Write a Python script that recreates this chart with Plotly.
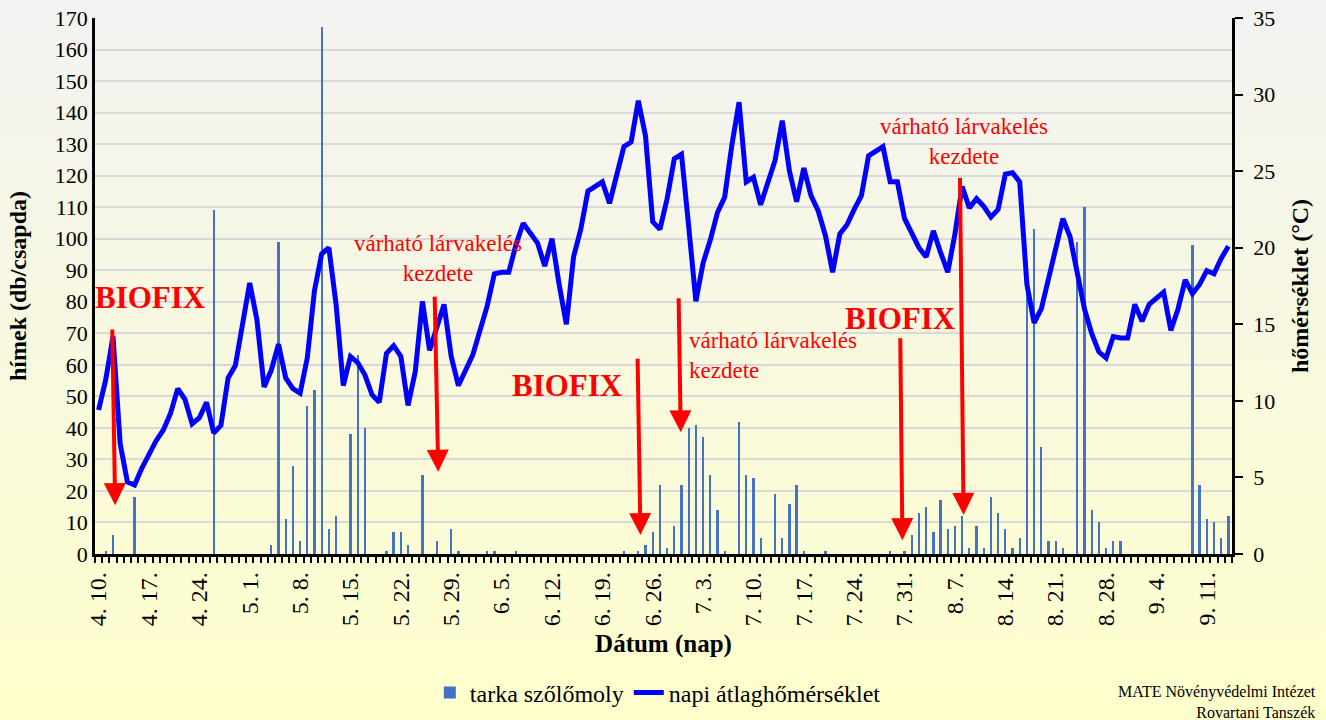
import base64
import plotly.graph_objects as go

# ---------------- data ----------------
# daily counts of males (tarka szőlőmoly), 4.10. -> 9.14. (158 days), one row = one week
moth_counts = [
    0, 1, 6, 0, 0, 18, 0,          # 4.10.
    0, 0, 0, 0, 0, 0, 0,           # 4.17.
    0, 0, 109, 0, 0, 0, 0,         # 4.24.
    0, 0, 0, 3, 99, 11, 28,        # 5.1.
    4, 47, 52, 167, 8, 12, 0,      # 5.8.
    38, 63, 40, 0, 0, 1, 7,        # 5.15.
    7, 3, 0, 25, 0, 4, 0,          # 5.22.
    8, 1, 0, 0, 0, 1, 1,           # 5.29.
    0, 0, 1, 0, 0, 0, 0,           # 6.5.
    0, 0, 0, 0, 0, 0, 0,           # 6.12.
    0, 0, 0, 1, 0, 1, 3,           # 6.19.
    7, 22, 2, 9, 22, 40, 41,       # 6.26.
    37, 25, 14, 1, 0, 42, 25,      # 7.3.
    24, 5, 0, 19, 5, 16, 22,       # 7.10.
    1, 0, 0, 1, 0, 0, 0,           # 7.17.
    0, 0, 0, 0, 0, 1, 0,           # 7.24.
    1, 6, 13, 15, 7, 17, 8,        # 7.31.
    9, 12, 2, 9, 2, 18, 13,        # 8.7.
    8, 2, 5, 90, 103, 34, 4,       # 8.14.
    4, 2, 0, 99, 110, 14, 10,      # 8.21.
    2, 4, 4, 0, 0, 0, 0,           # 8.28.
    0, 0, 0, 0, 0, 98, 22,         # 9.4.
    11, 10, 5, 12,                 # 9.11.
]

# daily mean temperature (°C)
mean_temp = [
    9.4, 11.4, 14.2, 7.2, 4.7, 4.5, 5.6,
    6.5, 7.4, 8.1, 9.2, 10.8, 10.1, 8.5,
    8.9, 9.9, 7.9, 8.4, 11.5, 12.3, 15.0,
    17.7, 15.3, 10.9, 12.0, 13.7, 11.5, 10.8,
    10.5, 12.8, 17.2, 19.6, 20.0, 16.3, 11.0,
    12.9, 12.5, 11.7, 10.4, 9.9, 13.1, 13.6,
    12.9, 9.7, 11.9, 16.5, 13.3, 14.9, 16.3,
    12.9, 11.0, 12.0, 13.0, 14.6, 16.2, 18.3,
    18.4, 18.4, 20.2, 21.6, 21.0, 20.3, 18.8,
    20.6, 17.6, 15.0, 19.4, 21.2, 23.7, 24.0,
    24.3, 22.9, 24.6, 26.6, 26.9, 29.6, 27.3,
    21.7, 21.2, 23.2, 25.8, 26.1, 21.4, 16.5,
    19.0, 20.5, 22.3, 23.3, 26.7, 29.5, 24.3,
    24.6, 22.8, 24.3, 25.7, 28.3, 25.0, 23.0,
    25.2, 23.4, 22.4, 20.8, 18.4, 20.9, 21.5,
    22.5, 23.4, 26.0, 26.3, 26.6, 24.3, 24.3,
    21.9, 20.9, 20.0, 19.4, 21.1, 19.7, 18.4,
    20.9, 24.0, 22.6, 23.2, 22.7, 22.0, 22.5,
    24.8, 24.9, 24.3, 17.6, 15.1, 16.0, 17.9,
    20.0, 21.9, 20.7, 18.3, 16.0, 14.4, 13.2,
    12.8, 14.2, 14.1, 14.1, 16.3, 15.2, 16.3,
    16.7, 17.1, 14.6, 16.0, 17.9, 17.0, 17.6,
    18.5, 18.3, 19.3, 20.1,
]

day_index = list(range(len(mean_temp)))

tick_labels = [
    "4. 10.", "4. 17.", "4. 24.", "5. 1.", "5. 8.", "5. 15.", "5. 22.", "5. 29.",
    "6. 5.", "6. 12.", "6. 19.", "6. 26.", "7. 3.", "7. 10.", "7. 17.", "7. 24.",
    "7. 31.", "8. 7.", "8. 14.", "8. 21.", "8. 28.", "9. 4.", "9. 11.",
]
tick_days = list(range(0, 7 * len(tick_labels), 7))

# annotations: label texts and anchors (day index, left-axis value)
label_texts = ["BIOFIX", "várható lárvakelés<br>kezdete", "BIOFIX",
               "várható lárvakelés<br>kezdete", "BIOFIX", "várható lárvakelés<br>kezdete"]
label_days = [7.2, 47.1, 65.2, 81.7, 111.4, 120.3]
label_vals = [81.2, 93.7, 53.6, 63.1, 74.8, 130.7]
label_anchor = ["center", "center", "center", "left", "center", "center"]
label_bold = [True, False, True, False, True, False]

arrow_tail_days = [1.9, 46.7, 74.9, 80.6, 111.4, 119.7]
arrow_tail_vals = [71.7, 82.1, 62.4, 81.6, 68.9, 119.7]
arrow_tip_days = [2.3, 47.2, 75.3, 80.9, 111.7, 120.2]
arrow_tip_vals = [15.5, 26.1, 6.0, 38.6, 4.4, 12.4]

# ---------------- figure ----------------
FONT = "Liberation Serif"

fig = go.Figure()
fig.add_trace(go.Bar(
    x=day_index, y=moth_counts, name="tarka szőlőmoly",
    marker=dict(color="#4472C4", line=dict(width=0)), width=0.32,
))
fig.add_trace(go.Scatter(
    x=day_index, y=mean_temp, name="napi átlaghőmérséklet", yaxis="y2",
    mode="lines", line=dict(color="#0000FF", width=5),
))

annotations = []
for t, d, v, a, b in zip(label_texts, label_days, label_vals, label_anchor, label_bold):
    annotations.append(dict(
        x=d, y=v, xref="x", yref="y", text=f"<b>{t}</b>" if b else t,
        showarrow=False, xanchor=a, yanchor="middle", align=a,
        font=dict(family=FONT, size=31 if b else 23, color="#FF0000"),
    ))
for td, tv, hd, hv in zip(arrow_tail_days, arrow_tail_vals, arrow_tip_days, arrow_tip_vals):
    annotations.append(dict(
        x=hd, y=hv, xref="x", yref="y", ax=td, ay=tv, axref="x", ayref="y",
        text="", showarrow=True, arrowhead=2, arrowsize=1.1, arrowwidth=4,
        arrowcolor="#FF0000", standoff=0,
    ))
annotations.append(dict(
    x=(1318 - 95) / 1137, y=(554 - 702) / 536, xref="paper", yref="paper",
    text="MATE Növényvédelmi Intézet<br>Rovartani Tanszék", showarrow=False,
    xanchor="right", yanchor="middle", align="right",
    font=dict(family=FONT, size=16, color="black"),
))

svg = ('<svg xmlns="http://www.w3.org/2000/svg" width="100" height="100" '
       'viewBox="0 0 100 100" preserveAspectRatio="none"><defs>'
       '<linearGradient id="g" x1="0" y1="0" x2="0" y2="1">'
       '<stop offset="0" stop-color="#F2F2F2"/><stop offset="1" stop-color="#FFFFCC"/>'
       '</linearGradient></defs><rect width="100" height="100" fill="url(#g)"/></svg>')
bg_src = "data:image/svg+xml;base64," + base64.b64encode(svg.encode()).decode()

fig.update_layout(
    width=1326, height=720,
    margin=dict(l=95, r=94, t=18, b=166, autoexpand=False),
    paper_bgcolor="#FCFCE0", plot_bgcolor="rgba(0,0,0,0)",
    font=dict(family=FONT, size=22, color="black"),
    bargap=0,
    images=[dict(source=bg_src, xref="paper", yref="paper",
                 x=-95 / 1137, y=1 + 18 / 536, sizex=1326 / 1137, sizey=720 / 536,
                 xanchor="left", yanchor="top", sizing="stretch", layer="below")],
    xaxis=dict(
        range=[-0.5, len(day_index) - 0.5], automargin=False,
        tickmode="array", tickvals=tick_days, ticktext=tick_labels,
        tickangle=-90, tickfont=dict(family=FONT, size=24),
        ticks="", ticklabelstandoff=6,
        minor=dict(ticks="outside", tickmode="linear", tick0=-0.5, dtick=1,
                   ticklen=6, tickwidth=1.5, tickcolor="black", showgrid=False),
        showline=True, linecolor="black", linewidth=2.5, showgrid=False, zeroline=False,
        title=dict(text="<b>Dátum (nap)</b>", font=dict(family=FONT, size=25), standoff=10),
    ),
    yaxis=dict(
        range=[0, 170], dtick=10, tickfont=dict(family=FONT, size=22), automargin=False,
        showgrid=True, gridcolor="#D9D9D9", gridwidth=1.5,
        showline=True, linecolor="black", linewidth=2.5, ticks="", zeroline=False,
        title=dict(text="<b>hímek (db/csapda)</b>", font=dict(family=FONT, size=24), standoff=22),
    ),
    yaxis2=dict(
        range=[0, 35], dtick=5, overlaying="y", side="right", automargin=False,
        tickfont=dict(family=FONT, size=22), showgrid=False, zeroline=False,
        showline=True, linecolor="black", linewidth=2.5,
        ticks="outside", ticklen=8, tickwidth=2, tickcolor="black", ticklabelstandoff=6,
        title=dict(text="<b>hőmérséklet (°C)</b>", font=dict(family=FONT, size=24), standoff=18),
    ),
    legend=dict(orientation="h", x=0.495, xanchor="center", y=(554 - 693) / 536,
                yanchor="middle", font=dict(family=FONT, size=24),
                bgcolor="rgba(0,0,0,0)", traceorder="normal"),
    annotations=annotations,
    showlegend=True,
)

fig.write_html("out.html", config={"displayModeBar": False},
               post_script="document.body.style.margin='0px';"
                           "document.body.style.padding='0px';")
